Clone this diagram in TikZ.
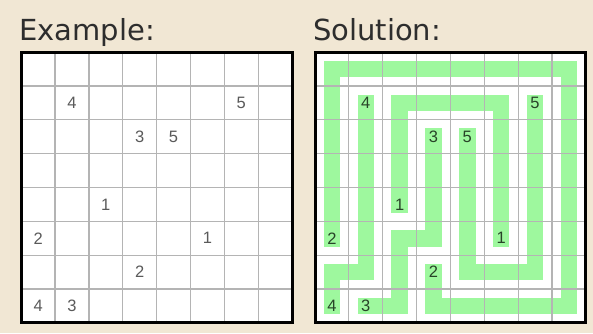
\documentclass[tikz,border=0pt]{standalone}
\usepackage{fontspec}
\setmainfont{DejaVu Sans}
\newfontfamily\digitfont{Liberation Sans}
\usetikzlibrary{calc}
\definecolor{paper}{RGB}{241,231,212}
\definecolor{mint}{RGB}{158,248,158}
\definecolor{rule}{RGB}{180,180,180}
\definecolor{slate}{RGB}{90,90,90}
\definecolor{moss}{RGB}{40,68,40}
\definecolor{ink}{RGB}{45,45,45}
\tikzset{
  title/.style={font=\fontsize{29}{31}\selectfont,text=ink,inner sep=0pt,anchor=base west},
  clue/.style={font=\digitfont\fontsize{16.5}{16.5}\selectfont,text=#1,inner sep=0pt},
  clue/.default=slate,
  thin grid/.style={draw=rule,line width=1.2pt},
  frame/.style={draw=black,line width=3pt},
  link/.style={draw=mint,line width=16.5pt,line cap=rect,line join=miter},
}
\newcommand{\cellsize}{33.85}

\begin{document}
\begin{tikzpicture}[x=1pt,y=-1pt]
    \fill[paper] (0,0) rectangle (593,333);
    \useasboundingbox (0,0) rectangle (593,333);
    \node[title] (extitle) at (19,40.7) {Example:};
    \node[title] (sotitle) at (313,40.7) {Solution:};
    % boards and cell centres
    \foreach \g/\ox in {ex/21.2,so/315}
    {
      \fill[white] (\ox,52.1) rectangle ++(8*\cellsize,8*\cellsize);
      \foreach \r in {0,...,7}
        \foreach \c in {0,...,7}
          \coordinate (\g-\r-\c) at ({\ox+(\c+0.5)*\cellsize},{52.1+(\r+0.5)*\cellsize});
    }
    % solution paths
    \draw[link] (so-1-1) -- (so-6-1) -- (so-6-0) -- (so-7-0);
    \draw[link] (so-5-0) -- (so-0-0) -- (so-0-7) -- (so-7-7) -- (so-7-3) -- (so-6-3);
    \draw[link] (so-4-2) -- (so-1-2) -- (so-1-5) -- (so-5-5);
    \draw[link] (so-2-3) -- (so-5-3) -- (so-5-2) -- (so-7-2) -- (so-7-1);
    \draw[link] (so-1-6) -- (so-6-6) -- (so-6-4) -- (so-2-4);
    % grid lines and frames
    \foreach \ox in {21.2,315}
    {
      \foreach \i in {1,...,7}
      {
        \draw[thin grid] ({\ox+\i*\cellsize},52.1) -- ++(0,8*\cellsize);
        \draw[thin grid] (\ox,{52.1+\i*\cellsize}) -- ++(8*\cellsize,0);
      }
      \draw[frame] (\ox,52.1) rectangle ++(8*\cellsize,8*\cellsize);
    }
    % clues
    \foreach \r/\c/\n in {1/1/4,1/6/5,2/3/3,2/4/5,4/2/1,5/0/2,5/5/1,6/3/2,7/0/4,7/1/3}
    {
      \node[clue] (ex-n-\r-\c) at (ex-\r-\c) {\n};
      \node[clue=moss] (so-n-\r-\c) at (so-\r-\c) {\n};
    }
\end{tikzpicture}
\end{document}
